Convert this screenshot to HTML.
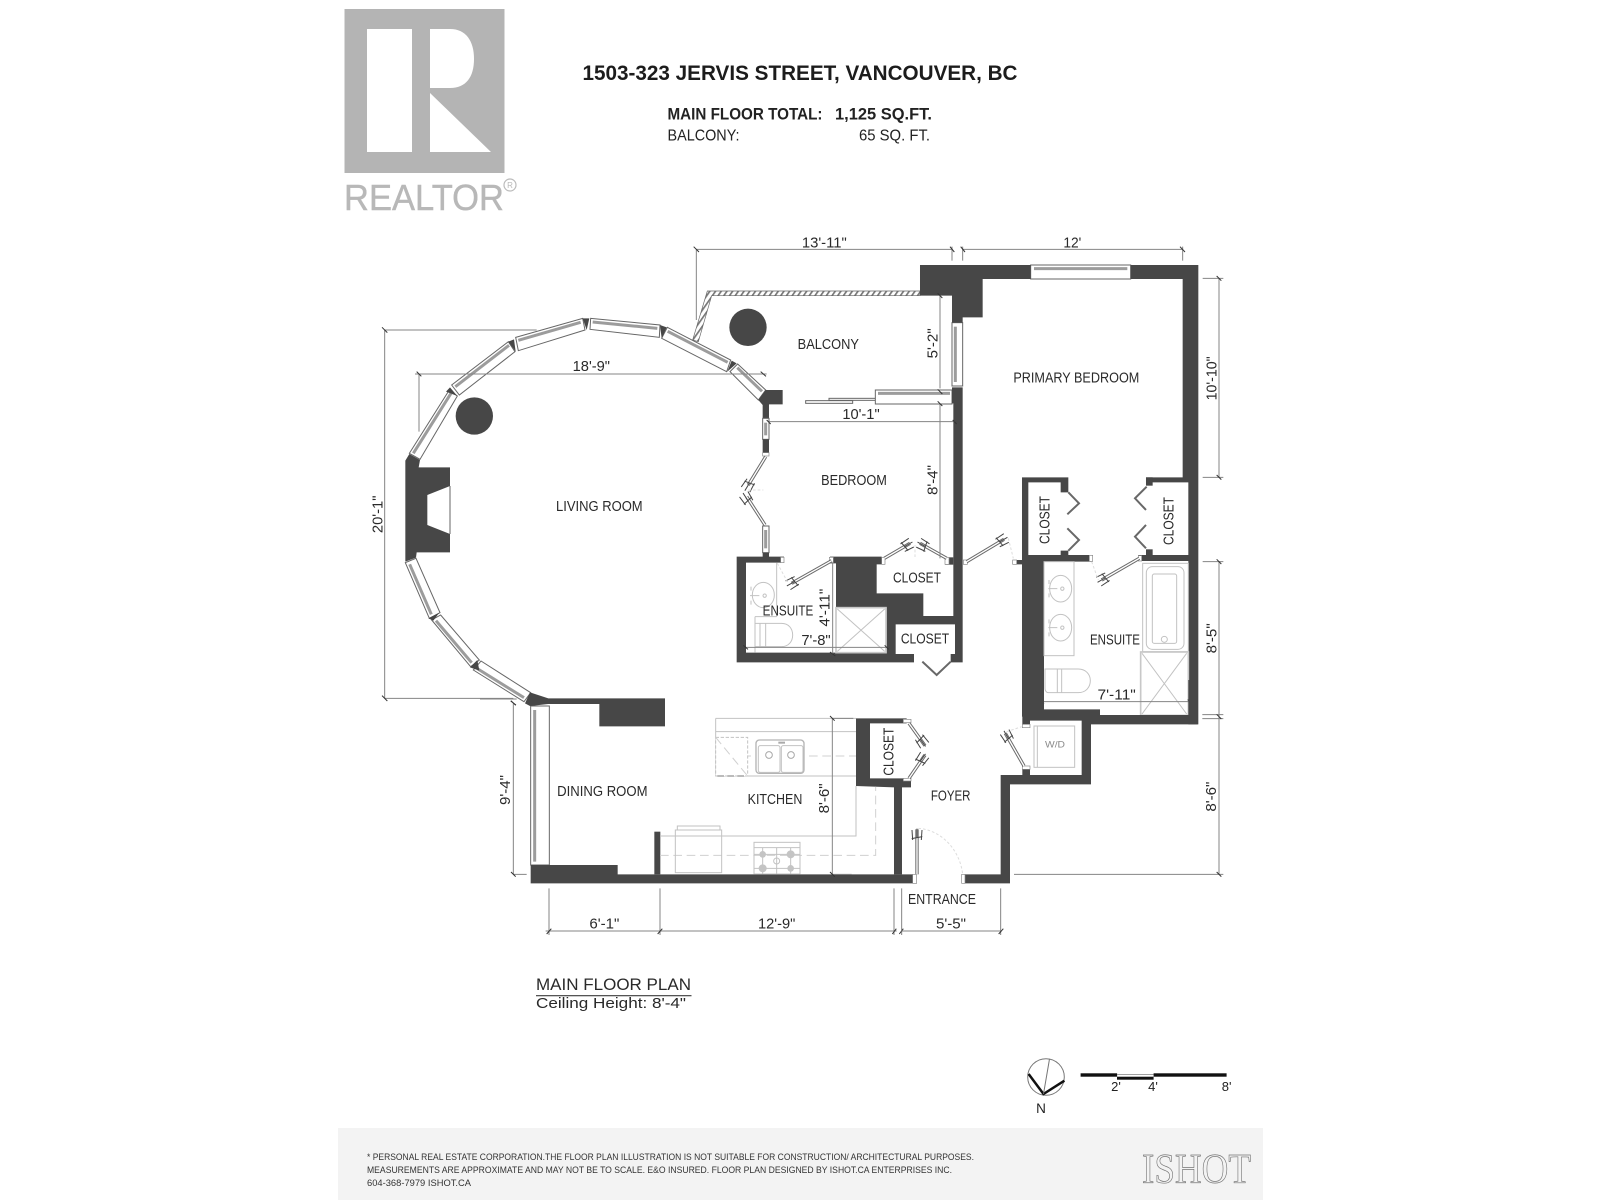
<!DOCTYPE html>
<html><head><meta charset="utf-8">
<style>
html,body{margin:0;padding:0;background:#fff}
svg{display:block;filter:blur(.3px)}
text{font-family:"Liberation Sans",sans-serif;fill:#2a2a2a}
.w{fill:#474747}
.t{font-size:43px;text-anchor:middle}
.dim{stroke:#858585;stroke-width:3;fill:none}
.tick{stroke:#333;stroke-width:3;fill:none}
.fx{stroke:#c2c2c2;stroke-width:3;fill:none}
.fxd{stroke:#d0d0d0;stroke-width:3;fill:none;stroke-dasharray:26 14}
.win{fill:#fff;stroke:#666;stroke-width:3}
.bar{stroke:#9c9c9c;stroke-width:9;fill:none}
.j{fill:#fff;stroke:#888;stroke-width:2}
.d1{stroke:#6a6a6a;stroke-width:10;fill:none}
.d2{stroke:#fff;stroke-width:4;fill:none}
.cd{stroke:#686868;stroke-width:6;fill:none}
.h{stroke:#444;stroke-width:3;fill:none}
.sw{stroke:#ddd;stroke-width:3;fill:none;stroke-dasharray:8 6}
</style></head>
<body>
<svg width="1600" height="1200" viewBox="0 0 1600 1200" xmlns="http://www.w3.org/2000/svg">
<defs>
<pattern id="hat" width="14" height="14" patternUnits="userSpaceOnUse" patternTransform="rotate(35)">
<rect width="14" height="14" fill="#fff"/><rect width="5" height="14" fill="#777"/>
</pattern>
<path id="hs" class="h" d="M-13 -14L-15 16M0 -6V20M13 -14L15 16M-16 -4L16 -10"/>
</defs>
<rect width="1600" height="1200" fill="#fff"/>

<!-- Realtor logo -->
<rect x="344.5" y="9" width="160" height="164" fill="#b4b4b4"/>
<rect x="367" y="29" width="45" height="123" fill="#fff"/>
<path d="M430 29H450C466 29 474 41 474 59C474 77 466 88 450 88H430ZM430 93L491 152H430Z" fill="#fff"/>
<text x="344" y="210" font-size="36" textLength="160" lengthAdjust="spacingAndGlyphs" style="fill:#b8b8b8;stroke:#b8b8b8;stroke-width:.4">REALTOR</text>
<circle cx="510" cy="185" r="6" fill="none" stroke="#bbb" stroke-width="1.2"/>
<text x="510" y="188" font-size="8" text-anchor="middle" style="fill:#b8b8b8">R</text>

<!-- Title -->
<text x="582.5" y="80" font-size="21" font-weight="bold" textLength="435" lengthAdjust="spacingAndGlyphs" style="fill:#1c1c1c">1503-323 JERVIS STREET, VANCOUVER, BC</text>
<text x="667.5" y="119.5" font-size="16.5" font-weight="bold" textLength="155" lengthAdjust="spacingAndGlyphs" style="fill:#222">MAIN FLOOR TOTAL:</text>
<text x="835" y="119.5" font-size="16.5" font-weight="bold" textLength="97" lengthAdjust="spacingAndGlyphs" style="fill:#222">1,125 SQ.FT.</text>
<text x="667.5" y="140.5" font-size="16" textLength="72" lengthAdjust="spacingAndGlyphs" style="fill:#222">BALCONY:</text>
<text x="859" y="140.5" font-size="16" textLength="71" lengthAdjust="spacingAndGlyphs" style="fill:#222">65 SQ. FT.</text>

<!-- ================= Z2: living room ================= -->
<g transform="translate(370,230) scale(.33333)">
  <!-- balcony rail -->
  <path d="M1012 183H1650V197H1025L985 335L968 330Z" fill="url(#hat)" stroke="#666" stroke-width="2"/>
  <circle cx="1134" cy="292" r="56" fill="#474747"/>
  <circle cx="313" cy="558" r="56" fill="#474747"/>
  <!-- curved windows -->
  <polygon class="win" points="118,670 238,480 262,498 150,688"/><line class="bar" x1="130" y1="670" x2="243" y2="490"/>
  <polygon class="win" points="245,465 415,335 435,365 268,495"/><line class="bar" x1="256" y1="470" x2="417" y2="346"/>
  <polygon class="win" points="437,322 638,265 645,300 445,362"/><line class="bar" x1="445" y1="331" x2="632" y2="277"/>
  <polygon class="win" points="662,265 870,285 868,322 660,298"/><line class="bar" x1="668" y1="276" x2="862" y2="295"/>
  <polygon class="win" points="892,292 1082,390 1070,425 875,325"/><line class="bar" x1="893" y1="304" x2="1073" y2="397"/>
  <polygon class="win" points="1103,402 1187,480 1165,510 1080,425"/><line class="bar" x1="1102" y1="413" x2="1176" y2="484"/>
  <polygon class="win" points="106,998 178,1165 210,1148 138,985"/><line class="bar" x1="119" y1="1003" x2="184" y2="1153"/>
  <polygon class="win" points="185,1170 302,1310 328,1290 212,1155"/><line class="bar" x1="198" y1="1172" x2="305" y2="1298"/>
  <polygon class="win" points="310,1320 462,1415 482,1388 333,1293"/><line class="bar" x1="322" y1="1316" x2="462" y2="1403"/>
  <!-- wedges -->
  <polygon class="w" points="228,485 240,472 262,498"/>
  <polygon class="w" points="415,335 432,328 437,365"/>
  <polygon class="w" points="638,265 658,265 650,300"/>
  <polygon class="w" points="870,285 890,292 875,325"/>
  <polygon class="w" points="1085,392 1100,400 1072,425"/>
  <polygon class="w" points="175,1165 208,1148 190,1172"/>
  <polygon class="w" points="300,1312 322,1290 328,1322"/>
  <!-- fireplace -->
  <polygon class="w" points="118,672 150,690 146,712 240,712 240,967 140,967 138,983 106,995 106,692"/>
  <polygon fill="#fff" points="240,768 172,795 172,885 240,912"/>
  <line x1="240" y1="768" x2="240" y2="912" stroke="#666" stroke-width="3"/>
  <!-- corner pier + small windows -->
  <polygon class="w" points="1187,480 1238,480 1238,523 1197,523 1197,565 1178,565 1178,525 1165,510"/>
  <rect class="win" x="1178" y="565" width="19" height="63"/><line class="bar" x1="1187" y1="578" x2="1187" y2="616"/>
  <rect class="w" x="1178" y="628" width="19" height="40"/>
  <rect class="j" x="1178" y="668" width="19" height="10"/>
  <path class="d1" d="M1187 680L1135 765"/><path class="d2" d="M1187 680L1135 765"/>
  <use href="#hs" transform="translate(1135,765) rotate(31.5)"/>
  <path class="sw" d="M1135 780H1180"/>
  <path class="d1" d="M1185 885L1130 800"/><path class="d2" d="M1185 885L1130 800"/>
  <use href="#hs" transform="translate(1130,806) rotate(147)"/>
  <rect class="win" x="1178" y="888" width="19" height="80"/><line class="bar" x1="1187" y1="900" x2="1187" y2="955"/>
  <rect class="w" x="1178" y="968" width="19" height="17"/>
  <!-- dims -->
  <path class="dim" d="M44 300V1405M44 300H500M44 1405H430M135 432H1190M147 432V605M979 58V270M979 58H1746"/>
  <path class="tick" d="M36 292L52 308M36 1397L52 1413M140 425L154 439M1172 425L1188 439M971 50L987 66M422 1413L438 1425"/>
  <text class="t" transform="rotate(-90 37 853)" x="37" y="853" textLength="113" lengthAdjust="spacingAndGlyphs">20'-1"</text>
  <text class="t" x="664" y="423" textLength="112" lengthAdjust="spacingAndGlyphs">18'-9"</text>
  <text class="t" x="688" y="843" textLength="260" lengthAdjust="spacingAndGlyphs">LIVING ROOM</text>
</g>

<!-- ================= Z3: bedrooms ================= -->
<g transform="translate(720,230) scale(.33333)">
  <!-- windows -->
  <rect class="win" x="932" y="105" width="300" height="42"/>
  <line class="bar" x1="942" y1="116" x2="1222" y2="116"/>
  <rect class="win" x="696" y="278" width="32" height="190"/>
  <line class="bar" x1="706" y1="290" x2="706" y2="456"/>
  <!-- sliding door -->
  <rect class="win" x="327" y="505" width="140" height="6"/>
  <rect class="win" x="257" y="512" width="141" height="8"/>
  <rect class="win" x="466" y="480" width="230" height="42"/>
  <line class="bar" x1="474" y1="490" x2="690" y2="490"/>
  <!-- top-left pier -->
  <polygon class="w" points="600,105 932,105 932,147 788,147 788,262 728,262 728,278 696,278 696,197 600,197"/>
  <!-- right/top wall -->
  <polygon class="w" points="1232,105 1435,105 1435,1483 1405,1483 1405,993 1255,993 1255,975 1405,975 1405,757 1278,757 1278,742 1388,742 1388,147 1232,147"/>
  <rect class="w" x="1278" y="742" width="20" height="25"/>
  <rect class="w" x="1278" y="958" width="20" height="20"/>
  <!-- left primary closet + wall -->
  <polygon class="w" points="906,742 1045,742 1045,787 1022,787 1022,757 925,757 925,975 1022,975 1022,962 1045,962 1045,975 1118,975 1118,995 972,995 972,1460 906,1460 906,1003 880,1003 880,990 906,990"/>
  <rect class="j" x="1108" y="976" width="10" height="18"/>
  <rect class="j" x="878" y="990" width="12" height="13"/>
  <rect class="j" x="1255" y="977" width="10" height="16"/>
  <!-- bedroom right wall + mass -->
  <polygon class="w" points="696,472 728,472 728,1297 692,1297 692,1272 705,1272 705,1183 527,1183 527,1272 582,1272 582,1297 50,1297 50,980 192,980 192,998 78,998 78,1268 500,1268 500,1133 348,1133 348,1000 330,1000 330,980 485,980 485,1003 470,1003 470,1090 610,1090 610,1158 700,1158 700,520 696,520"/>
  <rect class="w" x="675" y="982" width="25" height="22"/>
  <rect class="j" x="182" y="982" width="10" height="16"/>
  <rect class="j" x="328" y="982" width="12" height="16"/>
  <rect class="j" x="485" y="982" width="10" height="21"/>
  <rect class="j" x="675" y="982" width="12" height="21"/>
  <rect class="j" x="730" y="990" width="12" height="13"/>
  <!-- doors -->
  <path class="d1" d="M335 992L215 1060"/><path class="d2" d="M335 992L215 1060"/>
  <use href="#hs" transform="translate(218,1058) rotate(60.6)"/>
  <path class="sw" d="M172 1000L205 1060"/>
  <path class="d1" d="M493 985L570 940"/><path class="d2" d="M493 985L570 940"/>
  <use href="#hs" transform="translate(560,946) rotate(-120)"/>
  <path class="d1" d="M680 985L600 940"/><path class="d2" d="M680 985L600 940"/>
  <use href="#hs" transform="translate(610,946) rotate(119)"/>
  <path class="sw" d="M585 945V985"/>
  <path class="d1" d="M740 995L852 928"/><path class="d2" d="M740 995L852 928"/>
  <use href="#hs" transform="translate(845,932) rotate(-120)"/>
  <path class="sw" d="M865 925L880 985"/>
  <path class="d1" d="M1258 985L1145 1050"/><path class="d2" d="M1258 985L1145 1050"/>
  <use href="#hs" transform="translate(1150,1047) rotate(60)"/>
  <path class="sw" d="M1115 995L1135 1050"/>
  <path class="cd" d="M1045 787L1077 820L1042 853M1042 895L1077 930L1045 962"/>
  <path class="cd" d="M1280 770L1245 805L1278 840M1278 885L1245 920L1278 955"/>
  <path class="cd" d="M607 1295L650 1335L692 1295"/>
  <!-- fixtures left ensuite -->
  <path class="fx" d="M170 998V1160M105 1160H170M105 1160V1268"/>
  <ellipse class="fx" cx="130" cy="1095" rx="33" ry="38"/>
  <circle class="fx" cx="134" cy="1097" r="5"/>
  <path class="fx" d="M90 1097H118M93 1070V1082M93 1112V1124"/>
  <path class="fx" d="M105 1180H185C205 1180 218 1195 218 1215C218 1235 205 1250 185 1250H105M120 1180V1250M137 1180V1250"/>
  <rect x="348" y="1133" width="150" height="135" fill="#fff" stroke="#c8c8c8" stroke-width="5"/>
  <path class="fx" d="M352 1137L494 1264M494 1137L352 1264"/>
  <!-- fixtures primary ensuite -->
  <rect class="fx" x="972" y="995" width="90" height="282"/>
  <ellipse class="fx" cx="1022" cy="1076" rx="33" ry="40"/>
  <ellipse class="fx" cx="1022" cy="1193" rx="33" ry="40"/>
  <circle class="fx" cx="1027" cy="1076" r="5"/><circle class="fx" cx="1027" cy="1193" r="5"/>
  <path class="fx" d="M985 1076H1012M985 1193H1012M987 1050V1062M987 1090V1102M987 1168V1180M987 1207V1219"/>
  <path class="fx" d="M975 1317H1075C1097 1317 1111 1333 1111 1352C1111 1372 1097 1388 1075 1388H985C978 1388 975 1380 975 1375ZM1012 1317V1388M1025 1317V1388"/>
  <rect class="fx" x="1268" y="1000" width="137" height="265"/>
  <rect class="fx" x="1279" y="1010" width="113" height="248" rx="18"/>
  <rect class="fx" x="1297" y="1032" width="73" height="208" rx="6"/>
  <circle class="fx" cx="1333" cy="1228" r="9"/>
  <rect x="1262" y="1266" width="143" height="190" fill="#fff" stroke="#c8c8c8" stroke-width="5"/>
  <path class="fx" d="M1266 1270L1400 1452M1400 1270L1266 1452"/>
  <!-- dims -->
  <path class="dim" d="M728 58H1388M696 50V92M728 50V92M1388 50V92M1497 145V742M1448 145H1510M1448 742H1510M1497 995V1460M1448 995H1510M660 195V475M660 520V985M145 575H705M338 1000V1272M78 1252H500M965 1415H1410"/>
  <path class="tick" d="M690 50L703 66M722 50L735 66M1380 50L1395 66M1490 138L1504 152M1490 735L1504 749M1490 988L1504 1002M653 190L667 204M653 478L667 492M653 514L667 528M140 570L152 582M698 570L710 582M70 1246L84 1258M330 1266L346 1278M494 1246L506 1258M960 1409L972 1421M1403 1409L1417 1421"/>
  <text class="t" x="313" y="52" textLength="135" lengthAdjust="spacingAndGlyphs">13'-11"</text>
  <text class="t" x="1057" y="52" textLength="54" lengthAdjust="spacingAndGlyphs">12'</text>
  <text class="t" transform="rotate(-90 1490 445)" x="1490" y="445" textLength="132" lengthAdjust="spacingAndGlyphs">10'-10"</text>
  <text class="t" transform="rotate(-90 1490 1225)" x="1490" y="1225" textLength="90" lengthAdjust="spacingAndGlyphs">8'-5"</text>
  <text class="t" transform="rotate(-90 652 340)" x="652" y="340" textLength="90" lengthAdjust="spacingAndGlyphs">5'-2"</text>
  <text class="t" transform="rotate(-90 652 750)" x="652" y="750" textLength="90" lengthAdjust="spacingAndGlyphs">8'-4"</text>
  <text class="t" x="423" y="567" textLength="112" lengthAdjust="spacingAndGlyphs">10'-1"</text>
  <text class="t" transform="rotate(-90 328 1133)" x="328" y="1133" textLength="114" lengthAdjust="spacingAndGlyphs">4'-11"</text>
  <text class="t" x="288" y="1245" textLength="88" lengthAdjust="spacingAndGlyphs">7'-8"</text>
  <text class="t" x="1190" y="1408" textLength="115" lengthAdjust="spacingAndGlyphs">7'-11"</text>
  <text class="t" x="325" y="357" textLength="184" lengthAdjust="spacingAndGlyphs">BALCONY</text>
  <text class="t" x="1069" y="458" textLength="378" lengthAdjust="spacingAndGlyphs">PRIMARY BEDROOM</text>
  <text class="t" x="402" y="765" textLength="197" lengthAdjust="spacingAndGlyphs">BEDROOM</text>
  <text class="t" x="591" y="1058" textLength="144" lengthAdjust="spacingAndGlyphs">CLOSET</text>
  <text class="t" x="615" y="1241" textLength="145" lengthAdjust="spacingAndGlyphs">CLOSET</text>
  <text class="t" x="204" y="1157" textLength="152" lengthAdjust="spacingAndGlyphs">ENSUITE</text>
  <text class="t" x="1185" y="1244" textLength="150" lengthAdjust="spacingAndGlyphs">ENSUITE</text>
  <text class="t" transform="rotate(-90 988 870)" x="988" y="870" textLength="144" lengthAdjust="spacingAndGlyphs">CLOSET</text>
  <text class="t" transform="rotate(-90 1360 873)" x="1360" y="873" textLength="144" lengthAdjust="spacingAndGlyphs">CLOSET</text>
</g>

<!-- ================= Z4: dining/kitchen ================= -->
<g transform="translate(480,680) scale(.33333)">
  <rect class="win" x="152" y="78" width="56" height="477"/>
  <line class="bar" x1="164" y1="90" x2="164" y2="545"/>
  <polygon class="w" points="135,70 150,37 205,55 555,55 555,139 358,139 358,72 205,72 150,78"/>
  <polygon class="w" points="152,555 413,555 413,583 1300,583 1300,610 152,610"/>
  <rect class="w" x="523" y="455" width="18" height="128"/>
  <!-- closet -->
  <polygon class="w" points="1128,115 1280,115 1280,130 1170,130 1170,295 1293,295 1293,322 1266,322 1266,583 1242,583 1242,322 1128,318"/>
  <rect class="j" x="1270" y="118" width="23" height="10"/>
  <rect class="j" x="1270" y="295" width="23" height="8"/>
  <path class="d1" d="M1287 130L1335 197"/><path class="d2" d="M1287 130L1335 197"/>
  <use href="#hs" transform="translate(1325,183) rotate(-35.6)"/>
  <path class="d1" d="M1335 225L1287 295"/><path class="d2" d="M1335 225L1287 295"/>
  <use href="#hs" transform="translate(1325,238) rotate(-145)"/>
  <!-- entrance -->
  <rect class="j" x="1298" y="583" width="12" height="27"/>
  <path class="d1" d="M1311 448V583"/><path class="d2" d="M1311 448V583"/>
  <use href="#hs" transform="translate(1311,466) rotate(180)"/>
  <path class="sw" d="M1315 445C1385 450 1440 510 1448 583"/>
  <!-- kitchen fixtures -->
  <path class="fx" d="M707 115H1128M707 155H1128M707 288H1128M707 115V288M540 468H1128V318"/>
  <path class="fxd" d="M707 228H1128M540 526H1187V320"/>
  <rect x="707" y="172" width="96" height="116" fill="#fff" stroke="#c2c2c2" stroke-width="3" stroke-dasharray="10 5"/>
  <path class="fxd" d="M707 172L803 288"/>
  <path d="M712 288H802" stroke="#bbb" stroke-width="6" stroke-dasharray="20 10"/>
  <rect x="828" y="180" width="144" height="100" rx="10" fill="#fff" stroke="#b4b4b4" stroke-width="4"/>
  <rect class="fx" x="835" y="197" width="65" height="80" rx="6"/>
  <rect class="fx" x="904" y="197" width="65" height="80" rx="6"/>
  <circle cx="867" cy="225" r="10" fill="none" stroke="#a8a8a8" stroke-width="3"/>
  <circle cx="933" cy="225" r="10" fill="none" stroke="#a8a8a8" stroke-width="3"/>
  <path d="M895 188H915" stroke="#aaa" stroke-width="6"/>
  <rect class="fx" x="592" y="438" width="128" height="12"/>
  <rect class="fx" x="586" y="450" width="139" height="128" fill="#fff"/>
  <rect class="fx" x="822" y="487" width="138" height="95"/>
  <path class="fx" d="M822 503H960M848 503V582M890 503V582M932 503V582M822 523H960M822 565H960"/>
  <circle cx="848" cy="523" r="10" fill="#c4c4c4"/><circle cx="932" cy="523" r="12" fill="#c4c4c4"/>
  <circle cx="848" cy="565" r="12" fill="#c4c4c4"/><circle cx="932" cy="565" r="10" fill="#c4c4c4"/>
  <circle class="fx" cx="890" cy="543" r="9" fill="#fff"/>
  <!-- dims -->
  <path class="dim" d="M0 57H110M100 68V583M100 583H140M207 625V765M540 625V765M1242 625V765M1265 625V765M197 753H1250M1057 115V583M1057 115H1120M1057 583H1115"/>
  <path class="tick" d="M93 62L107 76M93 576L107 590M200 762L214 746M533 762L547 746M1237 762L1249 746M1258 762L1270 746M1050 108L1064 122M1050 576L1064 590"/>
  <text class="t" transform="rotate(-90 90 330)" x="90" y="330" textLength="90" lengthAdjust="spacingAndGlyphs">9'-4"</text>
  <text class="t" x="373" y="745" textLength="90" lengthAdjust="spacingAndGlyphs">6'-1"</text>
  <text class="t" x="890" y="745" textLength="112" lengthAdjust="spacingAndGlyphs">12'-9"</text>
  <text class="t" transform="rotate(-90 1047 355)" x="1047" y="355" textLength="90" lengthAdjust="spacingAndGlyphs">8'-6"</text>
  <text class="t" x="367" y="348" textLength="271" lengthAdjust="spacingAndGlyphs">DINING ROOM</text>
  <text class="t" x="885" y="372" textLength="164" lengthAdjust="spacingAndGlyphs">KITCHEN</text>
  <text class="t" transform="rotate(-90 1240 215)" x="1240" y="215" textLength="144" lengthAdjust="spacingAndGlyphs">CLOSET</text>
</g>

<!-- ================= Z5: foyer / laundry ================= -->
<g transform="translate(880,680) scale(.33333)">
  <polygon class="w" points="427,0 492,0 492,88 660,88 660,105 925,105 925,0 953,0 953,133 633,133 633,313 390,313 390,610 255,610 255,583 362,583 362,285 605,285 605,122 450,122 450,133 427,133"/>
  <rect class="j" x="427" y="133" width="23" height="10"/>
  <rect class="w" x="427" y="258" width="23" height="27"/>
  <rect class="j" x="427" y="258" width="23" height="10"/>
  <rect class="j" x="245" y="583" width="10" height="27"/>
  <path class="d1" d="M432 258L376 160"/><path class="d2" d="M432 258L376 160"/>
  <use href="#hs" transform="translate(382,170) rotate(150)"/>
  <path class="sw" d="M380 155L425 140"/>
  <rect class="fx" x="462" y="138" width="122" height="124"/>
  <line class="fx" x1="472" y1="138" x2="472" y2="262"/>
  <text x="525" y="203" font-size="27" text-anchor="middle" textLength="60" lengthAdjust="spacingAndGlyphs" style="fill:#8a8a8a">W/D</text>
  <path class="dim" d="M1017 110V583M967 104H1030M967 116H1030M402 583H1030M64 753H362M362 625V765"/>
  <path class="tick" d="M1010 103L1024 117M1010 576L1024 590M356 762L370 746"/>
  <text class="t" transform="rotate(-90 1008 350)" x="1008" y="350" textLength="90" lengthAdjust="spacingAndGlyphs">8'-6"</text>
  <text class="t" x="213" y="745" textLength="90" lengthAdjust="spacingAndGlyphs">5'-5"</text>
  <text class="t" x="212" y="361" textLength="119" lengthAdjust="spacingAndGlyphs">FOYER</text>
  <text class="t" x="186" y="672" textLength="204" lengthAdjust="spacingAndGlyphs">ENTRANCE</text>
</g>

<!-- Plan title -->
<text x="536" y="990" font-size="16.5" textLength="155" lengthAdjust="spacingAndGlyphs">MAIN FLOOR PLAN</text>
<rect x="536" y="995" width="155.5" height="1.3" fill="#555"/>
<text x="536" y="1008" font-size="14.5" textLength="150" lengthAdjust="spacingAndGlyphs">Ceiling Height: 8'-4"</text>

<!-- compass & scale -->
<circle cx="1046" cy="1077" r="18.3" fill="none" stroke="#777" stroke-width="1"/>
<path d="M1028.6 1074L1043.5 1094L1064.4 1080.7" fill="none" stroke="#111" stroke-width="2.5"/>
<path d="M1043.5 1094L1049.5 1059" stroke="#777" stroke-width="1"/>
<text x="1041" y="1113" font-size="13.5" text-anchor="middle" style="fill:#222">N</text>
<rect x="1080.6" y="1073.3" width="36.5" height="3.4" fill="#111"/>
<rect x="1117" y="1076.7" width="36.6" height="3" fill="#111"/>
<rect x="1117" y="1074" width="36.6" height=".8" fill="#888"/>
<rect x="1153.6" y="1073.3" width="73" height="3.4" fill="#111"/>
<text x="1116" y="1091" font-size="13" text-anchor="middle" style="fill:#222">2'</text>
<text x="1153" y="1091" font-size="13" text-anchor="middle" style="fill:#222">4'</text>
<text x="1226.6" y="1091" font-size="13" text-anchor="middle" style="fill:#222">8'</text>

<!-- Footer -->
<rect x="338" y="1128" width="925" height="72" fill="#f3f3f3"/>
<text x="367" y="1160" font-size="9.5" textLength="607" lengthAdjust="spacingAndGlyphs" style="fill:#333">* PERSONAL REAL ESTATE CORPORATION.THE FLOOR PLAN ILLUSTRATION IS NOT SUITABLE FOR CONSTRUCTION/ ARCHITECTURAL PURPOSES.</text>
<text x="367" y="1173" font-size="9.5" textLength="585" lengthAdjust="spacingAndGlyphs" style="fill:#333">MEASUREMENTS ARE APPROXIMATE AND MAY NOT BE TO SCALE. E&amp;O INSURED. FLOOR PLAN DESIGNED BY ISHOT.CA ENTERPRISES INC.</text>
<text x="367" y="1186" font-size="9.5" textLength="104" lengthAdjust="spacingAndGlyphs" style="fill:#333">604-368-7979  ISHOT.CA</text>
<text x="1142" y="1183" font-size="42" textLength="109" lengthAdjust="spacingAndGlyphs" style="font-family:'Liberation Serif',serif;fill:none;stroke:#777;stroke-width:.7">ISHOT</text>
</svg>
</body></html>
